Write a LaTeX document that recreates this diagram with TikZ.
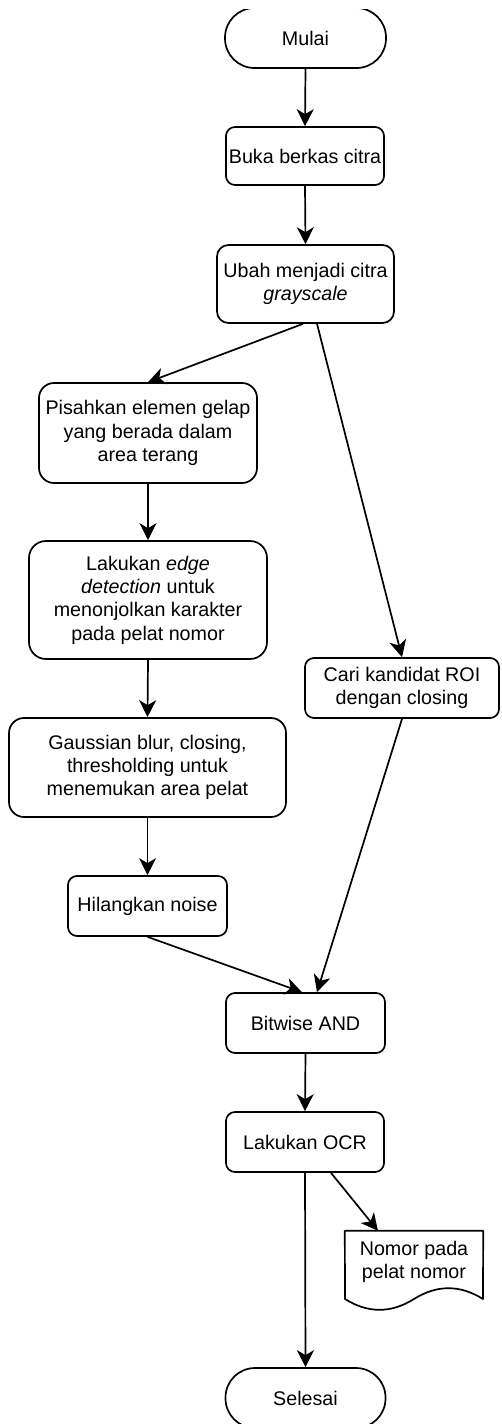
\documentclass[tikz,border=0pt]{standalone}
\usepackage{fontspec}
\setmainfont{Liberation Sans}
\usetikzlibrary{arrows.meta,calc}
\begin{document}
\begin{tikzpicture}[x=1pt,y=-1pt,
  txt/.style={font=\fontsize{19.7}{23.3}\selectfont, align=center, inner sep=0pt},
  box/.style={txt, draw, line width=1.7pt, rectangle},
  term/.style={box, rounded corners=29.5pt},
  flow/.style={line width=1.7pt, -{Stealth[length=17pt,width=17pt,inset=5pt]}}]
\useasboundingbox (0,0) rectangle (501,1424);
\clip (0,9) rectangle (501,1424);
\node[term, minimum width=161pt, minimum height=60pt] (mulai) at (305.5,38) {Mulai};
\node[box, rounded corners=9pt, minimum width=158pt, minimum height=58pt] (buka) at (305,156) {Buka berkas citra};
\node[box, rounded corners=11.5pt, minimum width=177pt, minimum height=78pt] (ubah) at (305.5,284) {Ubah menjadi citra\\\textit{grayscale}};
\node[box, rounded corners=15pt, minimum width=218pt, minimum height=100pt] (pis) at (148,433) {Pisahkan elemen gelap\\yang berada dalam\\area terang};
\node[box, rounded corners=17pt, minimum width=238pt, minimum height=118pt] (edgedet) at (148,600) {Lakukan \textit{edge}\\\textit{detection} untuk\\menonjolkan karakter\\pada pelat nomor};
\node[box, rounded corners=9pt, minimum width=194pt, minimum height=60pt] (cari) at (402,688) {Cari kandidat ROI\\dengan closing};
\node[box, rounded corners=15pt, minimum width=277pt, minimum height=99pt] (gauss) at (147.5,767.5) {Gaussian blur, closing,\\thresholding untuk\\menemukan area pelat};
\node[box, rounded corners=9pt, minimum width=159pt, minimum height=60pt] (hil) at (147.5,906) {Hilangkan noise};
\node[box, rounded corners=9pt, minimum width=159pt, minimum height=60pt] (bit) at (305.5,1023) {Bitwise AND};
\node[box, rounded corners=9pt, minimum width=158pt, minimum height=60pt] (ocr) at (305,1142) {Lakukan OCR};
\node[term, minimum width=160pt, minimum height=60pt] (selesai) at (305.5,1398) {Selesai};
% document shape
\node[inner sep=0pt, minimum width=138pt, minimum height=80pt] (doc) at (414,1271) {};
\draw[line width=1.7pt, line join=round] (doc.north west) -- (doc.north east) -- (483,1299)
  .. controls (460,1284.6) and (437,1284.6) .. (414,1299)
  .. controls (391,1313.4) and (368,1313.4) .. (345,1299) -- cycle;
\node[txt] (doctext) at (414,1262) {Nomor pada\\pelat nomor};
% connectors
\draw[flow] (mulai.south) -- (buka.north);
\draw[flow] (buka.south) -- (ubah.north);
\draw[flow] ($(ubah.south)+(-2.5,0)$) -- (pis.north);
\draw[flow] ($(ubah.south)+(11.5,0)$) -- (cari.north);
\draw[flow] (pis.south) -- (edgedet.north);
\draw[flow] (edgedet.south) -- (gauss.north);
\draw[flow] (gauss.south) -- (hil.north);
\draw[flow] (hil.south) -- ($(bit.north)+(-3.5,0)$);
\draw[flow] (cari.south) -- ($(bit.north)+(11.5,0)$);
\draw[flow] (bit.south) -- (ocr.north);
\draw[flow] ($(ocr.south)+(26,0)$) -- ($(doc.north)+(-36,0)$);
\draw[flow] (ocr.south) -- (selesai.north);
\end{tikzpicture}
\end{document}
